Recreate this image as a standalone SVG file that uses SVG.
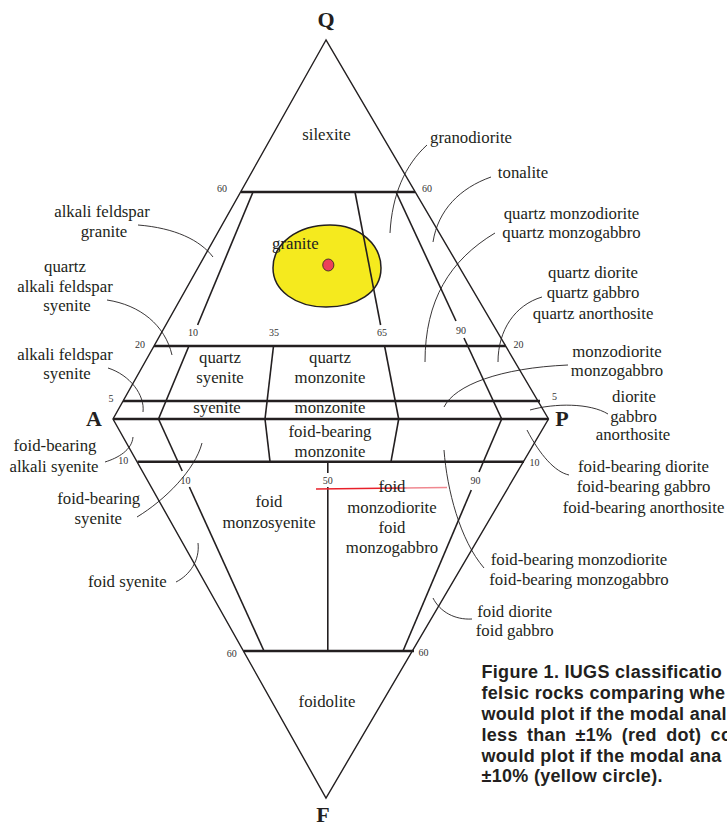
<svg xmlns="http://www.w3.org/2000/svg" width="727" height="826" viewBox="0 0 727 826">
<style>
.bg{fill:#fff}
.edge{fill:none;stroke:#231f20;stroke-width:1.4;stroke-linejoin:miter}
.inner{fill:none;stroke:#231f20;stroke-width:1.6}
.thick{fill:none;stroke:#231f20;stroke-width:2.6}
.lead{fill:none;stroke:#231f20;stroke-width:0.9}
.t{font-family:"Liberation Serif","Times New Roman",serif;font-size:16.8px;fill:#231f20;text-anchor:middle}
.tl{font-family:"Liberation Serif","Times New Roman",serif;font-size:16.8px;fill:#231f20}
.n{font-family:"Liberation Serif","Times New Roman",serif;font-size:10px;fill:#333}
.v{font-family:"Liberation Serif","Times New Roman",serif;font-size:22px;font-weight:bold;fill:#231f20;text-anchor:middle}
.cap{font-family:"Liberation Sans",Arial,sans-serif;font-size:18px;font-weight:bold;fill:#231f20;letter-spacing:0.3px}
</style>
<defs>
<linearGradient id="redfade" gradientUnits="userSpaceOnUse" x1="316" y1="0" x2="447" y2="0">
<stop offset="0" stop-color="#e8202a"/>
<stop offset="0.62" stop-color="#e8202a"/>
<stop offset="0.7" stop-color="#f08890"/>
<stop offset="1" stop-color="#f08890"/>
</linearGradient>
</defs>
<rect class="bg" x="0" y="0" width="727" height="826"/>

<g id="plot-marks">
<path d="M273,268 C273,243 298,225 330,225 C360,225 381,245 381,268 C381,293 356,307 326,307 C295,307 273,290 273,268 Z" fill="#f5ea1e" stroke="#231f20" stroke-width="1.5"/>
<ellipse cx="328.3" cy="265" rx="5.6" ry="6" fill="#ec4158" stroke="#231f20" stroke-width="0.8"/>
</g>

<g id="frame">
<path class="edge" d="M326,40 L113,419 L326,798 L548.5,419 Z"/>
<line class="thick" x1="241" y1="192" x2="415" y2="192"/>
<line class="thick" x1="154" y1="346" x2="506" y2="346"/>
<line class="thick" x1="123" y1="401" x2="540" y2="401"/>
<line class="thick" x1="113" y1="419" x2="548.5" y2="419"/>
<line class="thick" x1="137.5" y1="461.7" x2="524" y2="461.7"/>
<line class="thick" x1="243.5" y1="651" x2="414" y2="651"/>
<line class="inner" x1="253" y1="192" x2="197.6" y2="325"/>
<line class="inner" x1="188.9" y1="346" x2="158.5" y2="419"/>
<line class="inner" x1="273.5" y1="346" x2="265" y2="419"/>
<line class="inner" x1="355" y1="192" x2="380.6" y2="325"/>
<line class="inner" x1="384.6" y1="346" x2="398.7" y2="419"/>
<line class="inner" x1="396" y1="192" x2="456" y2="321"/>
<line class="inner" x1="464" y1="338" x2="501.7" y2="419"/>
<line class="inner" x1="158.5" y1="419" x2="182.2" y2="471"/>
<line class="inner" x1="189.4" y1="487" x2="264" y2="651"/>
<line class="inner" x1="265" y1="419" x2="270" y2="461.7"/>
<line class="inner" x1="398.7" y1="419" x2="391" y2="461.7"/>
<line class="inner" x1="501.7" y1="419" x2="479" y2="472"/>
<line class="inner" x1="471.3" y1="490" x2="403" y2="651"/>
<line class="inner" x1="327.8" y1="461.7" x2="327.8" y2="473"/>
<line class="inner" x1="327.8" y1="487" x2="327.8" y2="651"/>
</g>

<line id="red-line" x1="316" y1="489" x2="447" y2="487.5" stroke="url(#redfade)" stroke-width="1.3"/>

<g id="ticks">
<text class="n" x="217" y="191.5">60</text>
<text class="n" x="422" y="191.5">60</text>
<text class="n" x="188" y="336">10</text>
<text class="n" x="269" y="336">35</text>
<text class="n" x="377" y="336">65</text>
<text class="n" x="456" y="334">90</text>
<text class="n" x="135" y="348.3">20</text>
<text class="n" x="513.5" y="348">20</text>
<text class="n" x="108.5" y="401.5">5</text>
<text class="n" x="552" y="399.5">5</text>
<text class="n" x="118.3" y="464.3">10</text>
<text class="n" x="529.5" y="466">10</text>
<text class="n" x="180.5" y="484">10</text>
<text class="n" x="322.8" y="484">50</text>
<text class="n" x="470.5" y="484">90</text>
<text class="n" x="226.7" y="656.5">60</text>
<text class="n" x="418.6" y="656">60</text>
</g>

<g id="apexes">
<text class="v" x="326" y="27">Q</text>
<text class="v" x="94" y="426">A</text>
<text class="v" x="562" y="426">P</text>
<text class="v" x="323" y="822">F</text>
</g>

<g id="field-silexite"><text class="t" x="326.5" y="140">silexite</text></g>
<g id="field-granite"><text class="tl" x="272" y="249">granite</text></g>
<g id="field-quartz-syenite"><text class="t" x="220" y="362.7">quartz</text><text class="t" x="220" y="382.7">syenite</text></g>
<g id="field-quartz-monzonite"><text class="t" x="330" y="362.7">quartz</text><text class="t" x="330" y="382.7">monzonite</text></g>
<g id="field-syenite"><text class="t" x="217" y="412.7">syenite</text></g>
<g id="field-monzonite"><text class="t" x="330" y="412.7">monzonite</text></g>
<g id="field-foid-bearing-monzonite"><text class="t" x="330" y="436.5">foid-bearing</text><text class="t" x="330" y="456.5">monzonite</text></g>
<g id="field-foid-monzosyenite"><text class="t" x="269" y="506.7">foid</text><text class="t" x="269" y="528.3">monzosyenite</text></g>
<g id="field-foid-monzodiorite"><text class="t" x="392" y="491.7">foid</text><text class="t" x="392" y="512.7">monzodiorite</text><text class="t" x="392" y="532.7">foid</text><text class="t" x="392" y="553.3">monzogabbro</text></g>
<g id="field-foidolite"><text class="t" x="327" y="706.7">foidolite</text></g>

<g id="label-granodiorite"><text class="t" x="471" y="143">granodiorite</text></g>
<g id="label-tonalite"><text class="t" x="523" y="178.3">tonalite</text></g>
<g id="label-alkali-feldspar-granite"><text class="t" x="102" y="217.3">alkali feldspar</text><text class="t" x="104" y="237.3">granite</text></g>
<g id="label-quartz-monzodiorite"><text class="t" x="571.5" y="219">quartz monzodiorite</text><text class="t" x="571.5" y="238">quartz monzogabbro</text></g>
<g id="label-quartz-afs"><text class="t" x="65" y="271.7">quartz</text><text class="t" x="65" y="291.7">alkali feldspar</text><text class="t" x="67" y="311">syenite</text></g>
<g id="label-quartz-diorite"><text class="t" x="593" y="278.3">quartz diorite</text><text class="t" x="593" y="298.3">quartz gabbro</text><text class="t" x="593" y="319">quartz anorthosite</text></g>
<g id="label-afs"><text class="t" x="65" y="360">alkali feldspar</text><text class="t" x="67" y="379.3">syenite</text></g>
<g id="label-monzodiorite"><text class="t" x="617" y="356.7">monzodiorite</text><text class="t" x="617" y="375.5">monzogabbro</text></g>
<g id="label-diorite"><text class="t" x="634" y="401.7">diorite</text><text class="t" x="633.5" y="421.7">gabbro</text><text class="t" x="633" y="440">anorthosite</text></g>
<g id="label-fb-alkali-syenite"><text class="t" x="55" y="450.7">foid-bearing</text><text class="t" x="54" y="471.7">alkali syenite</text></g>
<g id="label-fb-diorite"><text class="t" x="643.5" y="471.7">foid-bearing diorite</text><text class="t" x="643.5" y="491.7">foid-bearing gabbro</text><text class="t" x="643.5" y="512.7">foid-bearing anorthosite</text></g>
<g id="label-fb-syenite"><text class="t" x="98.7" y="504">foid-bearing</text><text class="t" x="98.3" y="524">syenite</text></g>
<g id="label-fb-monzodiorite"><text class="t" x="579" y="565">foid-bearing monzodiorite</text><text class="t" x="579" y="585">foid-bearing monzogabbro</text></g>
<g id="label-foid-syenite"><text class="t" x="127.3" y="586.7">foid syenite</text></g>
<g id="label-foid-diorite"><text class="t" x="514.7" y="616.7">foid diorite</text><text class="t" x="514.7" y="636">foid gabbro</text></g>

<g id="connectors">
<path class="lead" d="M427,145 C405,165 392,195 390,233"/>
<path class="lead" d="M491,177 C460,188 438,210 433,242"/>
<path class="lead" d="M138,225 C175,228 200,240 213,257"/>
<path class="lead" d="M495,233 C450,260 425,300 425,362"/>
<path class="lead" d="M107,300 C140,305 165,325 172,355"/>
<path class="lead" d="M542,297 C515,305 498,330 498,362"/>
<path class="lead" d="M108,368 C130,375 145,395 143,412"/>
<path class="lead" d="M568,365 C500,368 455,385 444,407"/>
<path class="lead" d="M530,410 C555,403 590,403 608,414"/>
<path class="lead" d="M105,462 C118,458 132,450 133,437"/>
<path class="lead" d="M527,430 C540,455 555,472 569,475"/>
<path class="lead" d="M137,517 C165,500 195,470 202,443"/>
<path class="lead" d="M444,450 C447,490 460,540 484,568"/>
<path class="lead" d="M176,582 C190,575 200,560 198,543"/>
<path class="lead" d="M433,598 C440,612 455,620 472,619"/>
</g>

<g id="caption">
<text class="cap" x="481.5" y="678.3">Figure 1. IUGS classificatio</text>
<text class="cap" x="481.5" y="699.3">felsic rocks comparing whe</text>
<text class="cap" x="481.5" y="720">would plot if the modal anal</text>
<text class="cap" x="481.5" y="740.7" word-spacing="4">less than ±1% (red dot) co</text>
<text class="cap" x="481.5" y="761.5">would plot if the modal ana</text>
<text class="cap" x="481.5" y="782">±10% (yellow circle).</text>
</g>
</svg>
